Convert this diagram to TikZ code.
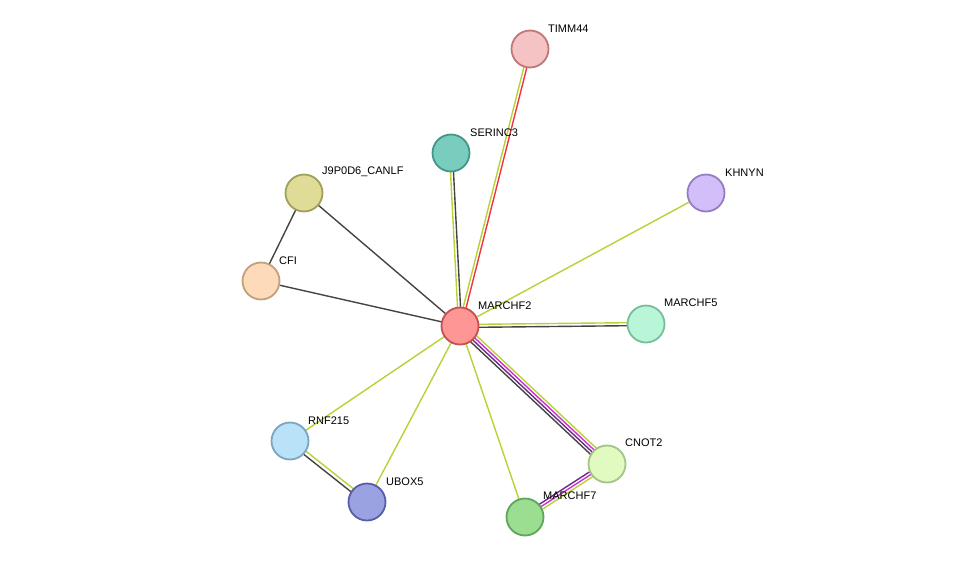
\documentclass[tikz,border=0pt]{standalone}
\usepackage{fontspec}
\setmainfont{Liberation Sans}
\usetikzlibrary{positioning}
\definecolor{ygreen}{HTML}{B5D334}
\definecolor{dgrey}{HTML}{444444}
\definecolor{lred}{HTML}{F2333F}
\definecolor{mag}{HTML}{D030D0}
\definecolor{purp}{HTML}{6A2A8A}
\tikzset{
    prot/.style={draw, circle, minimum size=37pt, inner sep=0pt, line width=1.8pt},
    lbl/.style={font=\fontsize{11}{13}\selectfont, anchor=south west, inner sep=1pt},
    e/.style={line width=1.4pt},
}
\begin{document}
\begin{tikzpicture}[x=1pt, y=-1pt]
    \useasboundingbox (0,0) rectangle (975,563);

    % edges
    \begin{scope}[transform canvas={xshift=-1.5pt}]
    \draw[e, ygreen] (460,326) -- (530,49);
    \draw[e, ygreen] (460,326) -- (451,153);
    \end{scope}
    \begin{scope}[transform canvas={xshift=1.5pt}]
    \draw[e, lred] (460,326) -- (530,49);
    \draw[e, dgrey] (460,326) -- (451,153);
    \end{scope}
    \draw[e, ygreen] (460,326) -- (706,193);
    \draw[e, dgrey] (460,326) -- (304,193);
    \draw[e, dgrey] (460,326) -- (261,281);
    \draw[e, dgrey] (261,281) -- (304,193);
    \draw[e, ygreen, transform canvas={yshift=1.5pt}] (460,326) -- (646,324);
    \draw[e, dgrey, transform canvas={yshift=-1.5pt}] (460,326) -- (646,324);
    \draw[e, ygreen] (460,326) -- (290,441);
    \draw[e, ygreen] (460,326) -- (367,502);
    \draw[e, ygreen] (460,326) -- (525,517);
    \draw[e, ygreen, transform canvas={shift={(3pt,3pt)}}] (460,326) -- (607,464);
    \draw[e, mag, transform canvas={shift={(1pt,1pt)}}] (460,326) -- (607,464);
    \draw[e, purp, transform canvas={shift={(-1pt,-1pt)}}] (460,326) -- (607,464);
    \draw[e, dgrey, transform canvas={shift={(-3pt,-3pt)}}] (460,326) -- (607,464);
    \draw[e, ygreen, transform canvas={shift={(1.6pt,-2.4pt)}}] (607,464) -- (525,517);
    \draw[e, mag] (607,464) -- (525,517);
    \draw[e, purp, transform canvas={shift={(-1.6pt,2.4pt)}}] (607,464) -- (525,517);
    \draw[e, ygreen, transform canvas={shift={(1.2pt,1.5pt)}}] (290,441) -- (367,502);
    \draw[e, dgrey, transform canvas={shift={(-1.2pt,-1.5pt)}}] (290,441) -- (367,502);

    % proteins
    \node[prot, fill={rgb,255:red,255;green,150;blue,150}, draw={rgb,255:red,200;green,80;blue,80}] (marchf2) at (460,326) {};
    \node[prot, fill={rgb,255:red,245;green,195;blue,195}, draw={rgb,255:red,190;green,120;blue,120}] (timm44) at (530,49) {};
    \node[prot, fill={rgb,255:red,120;green,205;blue,190}, draw={rgb,255:red,70;green,150;blue,135}] (serinc3) at (451,153) {};
    \node[prot, fill={rgb,255:red,210;green,190;blue,248}, draw={rgb,255:red,150;green,125;blue,195}] (khnyn) at (706,193) {};
    \node[prot, fill={rgb,255:red,222;green,220;blue,150}, draw={rgb,255:red,160;green,160;blue,90}] (j9p0d6) at (304,193) {};
    \node[prot, fill={rgb,255:red,252;green,218;blue,186}, draw={rgb,255:red,195;green,160;blue,125}] (cfi) at (261,281) {};
    \node[prot, fill={rgb,255:red,185;green,245;blue,215}, draw={rgb,255:red,120;green,190;blue,155}] (marchf5) at (646,324) {};
    \node[prot, fill={rgb,255:red,185;green,225;blue,248}, draw={rgb,255:red,125;green,165;blue,195}] (rnf215) at (290,441) {};
    \node[prot, fill={rgb,255:red,155;green,162;blue,225}, draw={rgb,255:red,85;green,95;blue,165}] (ubox5) at (367,502) {};
    \node[prot, fill={rgb,255:red,155;green,222;blue,145}, draw={rgb,255:red,95;green,165;blue,90}] (marchf7) at (525,517) {};
    \node[prot, fill={rgb,255:red,225;green,250;blue,192}, draw={rgb,255:red,165;green,195;blue,135}] (cnot2) at (607,464) {};

    % labels
    \node[lbl] at (477,311) {MARCHF2};
    \node[lbl] at (547,34) {TIMM44};
    \node[lbl] at (469,138) {SERINC3};
    \node[lbl] at (724,178) {KHNYN};
    \node[lbl] at (321,178) {J9P0D6\_CANLF};
    \node[lbl] at (278,266) {CFI};
    \node[lbl] at (663,308) {MARCHF5};
    \node[lbl] at (307,426) {RNF215};
    \node[lbl] at (385,487) {UBOX5};
    \node[lbl] at (542,501) {MARCHF7};
    \node[lbl] at (624,448) {CNOT2};
\end{tikzpicture}
\end{document}
